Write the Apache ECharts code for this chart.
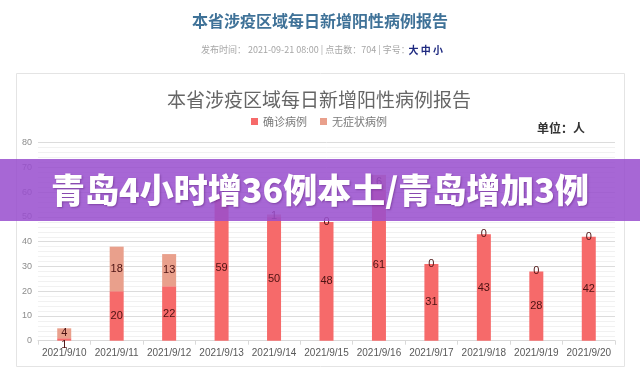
<!DOCTYPE html>
<html>
<head>
<meta charset="utf-8">
<script src="https://cdn.jsdelivr.net/npm/echarts@6/dist/echarts.min.js"></script>
<style>
html,body{margin:0;padding:0;background:#fff;}
#main{width:640px;height:381px;}
</style>
</head>
<body>
<div id="main"></div>
<script>
var categories = ['2021/9/10','2021/9/11','2021/9/12','2021/9/13','2021/9/14','2021/9/15','2021/9/16','2021/9/17','2021/9/18','2021/9/19','2021/9/20'];
var confirmed = [1, 20, 22, 59, 50, 48, 61, 31, 43, 28, 42];
var asymptomatic = [4, 18, 13, 0, 1, 0, 6, 0, 0, 0, 0];
var seriesNames = ['确诊病例', '无症状病例'];
var pageTitle = '本省涉疫区域每日新增阳性病例报告';
var chartTitle = '本省涉疫区域每日新增阳性病例报告';
var metaText = '发布时间： 2021-09-21 08:00 | 点击数：704 | 字号：';
var fontSizeText = '大 中 小';
var unitText = '单位：人';
var bannerText = '青岛4小时增36例本土/青岛增加3例';

var chart = echarts.init(document.getElementById('main'), null, {renderer: 'canvas'});
var labelColor = '#4d1212';
var confirmedData = confirmed.map(function (v, i) {
  if (i === 0) return {value: v, label: {offset: [0, 6]}};
  return v;
});
var option = {
  backgroundColor: '#ffffff',
  animation: false,
  title: {
    text: chartTitle,
    left: 162,
    top: 85,
    textStyle: {fontSize: 19, fontWeight: 'normal', color: '#666666', fontFamily: 'Noto Sans CJK SC'}
  },
  legend: {
    data: seriesNames,
    top: 111,
    left: 246,
    icon: 'rect',
    itemWidth: 7,
    itemHeight: 7,
    itemGap: 13,
    textStyle: {fontSize: 11, color: '#7a7a7a', fontFamily: 'Noto Sans CJK SC'}
  },
  grid: {left: 38, right: 25, top: 142.7, bottom: 40.3},
  xAxis: {
    type: 'category',
    data: categories,
    axisLine: {lineStyle: {color: '#d9d9d9'}},
    axisTick: {show: true, length: 4, lineStyle: {color: '#d9d9d9'}},
    axisLabel: {interval: 0, fontSize: 10, color: '#595959', margin: 8, fontFamily: 'Liberation Sans'}
  },
  yAxis: {
    type: 'value',
    min: 0,
    max: 80,
    interval: 10,
    axisLine: {show: false},
    axisTick: {show: false},
    axisLabel: {fontSize: 9, color: '#8c8c8c', margin: 6, fontFamily: 'Liberation Sans'},
    splitLine: {lineStyle: {color: '#dcdcdc'}},
    minorTick: {show: false, splitNumber: 5},
    minorSplitLine: {show: true, lineStyle: {color: '#f1f1f1'}}
  },
  series: [
    {
      name: seriesNames[0],
      type: 'bar',
      stack: 'total',
      barWidth: 14,
      data: confirmedData,
      itemStyle: {color: '#f66a6a'},
      label: {show: true, position: 'inside', color: labelColor, fontSize: 11, fontFamily: 'Liberation Sans'}
    },
    {
      name: seriesNames[1],
      type: 'bar',
      stack: 'total',
      barWidth: 14,
      data: asymptomatic,
      itemStyle: {color: '#e9a08c'},
      label: {show: true, position: 'inside', color: labelColor, fontSize: 11, fontFamily: 'Liberation Sans'}
    }
  ],
  graphic: [
    {
      type: 'rect', z: -1, silent: true,
      shape: {x: 16.5, y: 73.5, width: 608, height: 293},
      style: {fill: '#ffffff', stroke: '#e4e4e4', lineWidth: 1}
    },
    {
      type: 'text', z: 10,
      style: {x: 320, y: 21, text: pageTitle, textAlign: 'center', textVerticalAlign: 'middle',
        font: 'bold 16px "Noto Sans CJK SC"', fill: '#3f7298'}
    },
    {
      type: 'text', z: 10,
      style: {x: 201, y: 50, text: metaText, textAlign: 'left', textVerticalAlign: 'middle',
        font: '9px "Noto Sans CJK SC"', fill: '#a6a6a6'}
    },
    {
      type: 'text', z: 10,
      style: {x: 443, y: 50, text: fontSizeText, textAlign: 'right', textVerticalAlign: 'middle',
        font: 'bold 10px "Noto Sans CJK SC"', fill: '#1f2a80'}
    },
    {
      type: 'text', z: 10,
      style: {x: 585, y: 128, text: unitText, textAlign: 'right', textVerticalAlign: 'middle',
        font: 'bold 12px "Noto Sans CJK SC"', fill: '#333333'}
    },
    {
      type: 'rect', z: 100, silent: true,
      shape: {x: 0, y: 159, width: 640, height: 62},
      style: {fill: 'rgba(152, 78, 206, 0.86)'}
    },
    {
      type: 'text', z: 101,
      style: {x: 320, y: 190, text: bannerText, textAlign: 'center', textVerticalAlign: 'middle',
        font: '900 34px "Noto Sans CJK SC"', fill: '#ffffff',
        textShadowColor: 'rgba(60,0,80,0.35)', textShadowBlur: 2, textShadowOffsetX: 1, textShadowOffsetY: 1}
    }
  ]
};
chart.setOption(option);
</script>
</body>
</html>
